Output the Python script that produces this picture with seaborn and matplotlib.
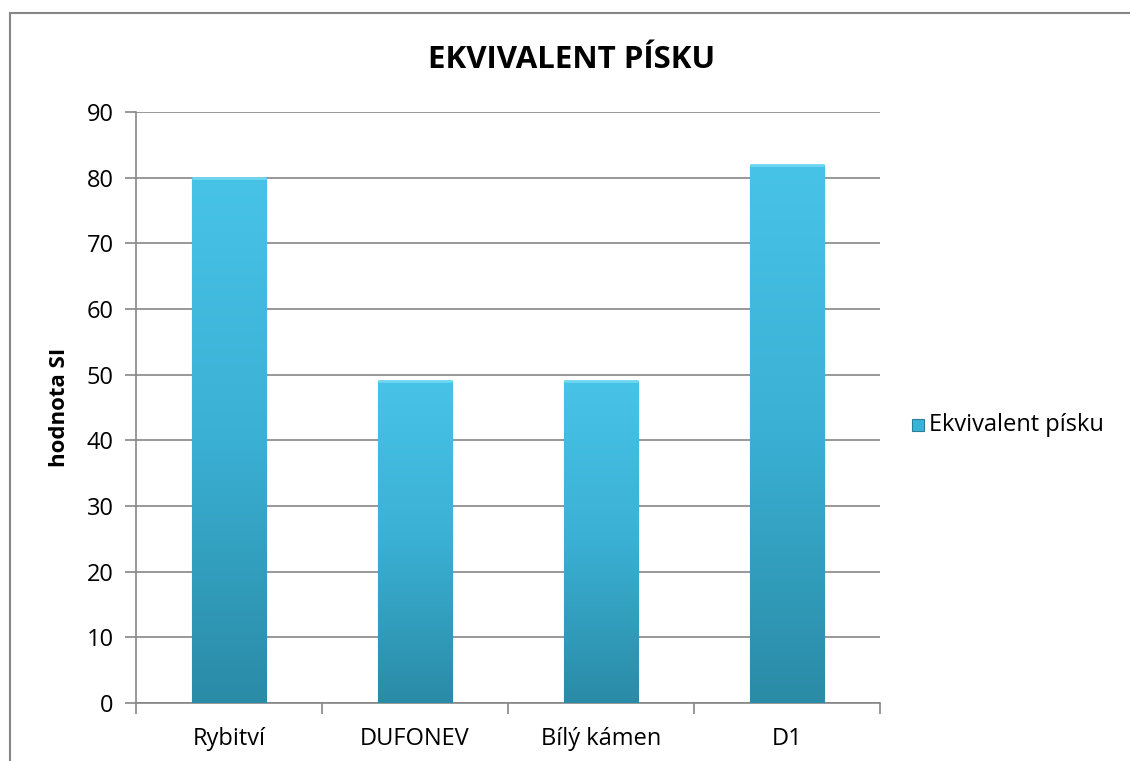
import numpy as np
import pandas as pd
import matplotlib
matplotlib.use("Agg")
import matplotlib.pyplot as plt
import seaborn as sns
from matplotlib.patches import Rectangle
from matplotlib.colors import LinearSegmentedColormap

# DATA
categories = ["Rybitví", "DUFONEV", "Bílý kámen", "D1"]
values = [80, 49, 49, 82]
series_name = "Ekvivalent písku"

df = pd.DataFrame({"lokalita": categories, "SI": values})

sns.set_theme(style="white")
plt.rcParams['font.family'] = ['Open Sans', 'DejaVu Sans']
plt.rcParams['text.color'] = 'black'
plt.rcParams['axes.labelcolor'] = 'black'

fig = plt.figure(figsize=(11.3, 7.61), dpi=100)
ax = fig.add_axes([136 / 1130, 1 - 703 / 761, (880 - 136) / 1130, (703 - 112) / 761])

ax.yaxis.grid(True, color="#868686", linewidth=1.2)
ax.set_axisbelow(True)

sns.barplot(data=df, x="lokalita", y="SI", color="#38B4DA", width=0.4,
            ax=ax, zorder=2, saturation=1)

# gradient fill for the bars
cmap = LinearSegmentedColormap.from_list("bar", ["#2A8BA6", "#3AB0D4", "#48C3E8"])
grad = np.linspace(0, 1, 256).reshape(-1, 1)
for patch in ax.patches:
    x0, y0 = patch.get_x(), patch.get_y()
    w, h = patch.get_width(), patch.get_height()
    im = ax.imshow(grad, cmap=cmap, origin="lower", aspect="auto",
                   extent=[x0, x0 + w, y0, y0 + h], zorder=3)
    im.set_clip_path(patch)
    patch.set_edgecolor("#2A7F96")
    patch.set_linewidth(0.8)
    # light top edge
    ax.plot([x0, x0 + w], [y0 + h, y0 + h], color="#6FD6F2", linewidth=2, zorder=4,
            solid_capstyle="butt")

ax.set_xlim(-0.5, len(categories) - 0.5)
ax.set_ylim(0, 90)
ax.set_yticks(range(0, 91, 10))

for side in ["top", "right"]:
    ax.spines[side].set_visible(False)
for side in ["left", "bottom"]:
    ax.spines[side].set_color("#868686")
    ax.spines[side].set_linewidth(1.2)

ax.tick_params(axis="y", which="both", left=True, length=8, width=1.2,
               color="#868686", labelsize=17, pad=8, labelcolor="black")
ax.set_xticks(range(len(categories)))
ax.set_xticklabels(categories)
ax.tick_params(axis="x", which="major", bottom=False, labelsize=17, pad=11,
               labelcolor="black")
ax.set_xticks(np.arange(-0.5, len(categories), 1.0), minor=True)
ax.tick_params(axis="x", which="minor", bottom=True, length=8, width=1.2,
               color="#868686")

ax.set_xlabel("")
ax.set_ylabel("hodnota SI", fontsize=16, fontweight="bold", labelpad=12)

fig.text(572 / 1130, 1 - 60 / 761, "EKVIVALENT PÍSKU", ha="center", va="center",
         fontsize=22.5, fontweight="bold")

# legend
fig.patches.append(Rectangle((912 / 1130, 1 - 431 / 761), 12 / 1130, 12 / 761,
                             transform=fig.transFigure, facecolor="#38B4DA",
                             edgecolor="#2A7F96", linewidth=0.8))
fig.text(929 / 1130, 1 - 425 / 761, series_name, ha="left", va="center", fontsize=17)

# outer chart border (only left and top visible in the crop)
fig.patches.append(Rectangle((10 / 1130, -0.1), 1.2, 1 - 13 / 761 + 0.1,
                             transform=fig.transFigure, fill=False,
                             edgecolor="#868686", linewidth=1.5))

fig.savefig("out.png", dpi=100)
